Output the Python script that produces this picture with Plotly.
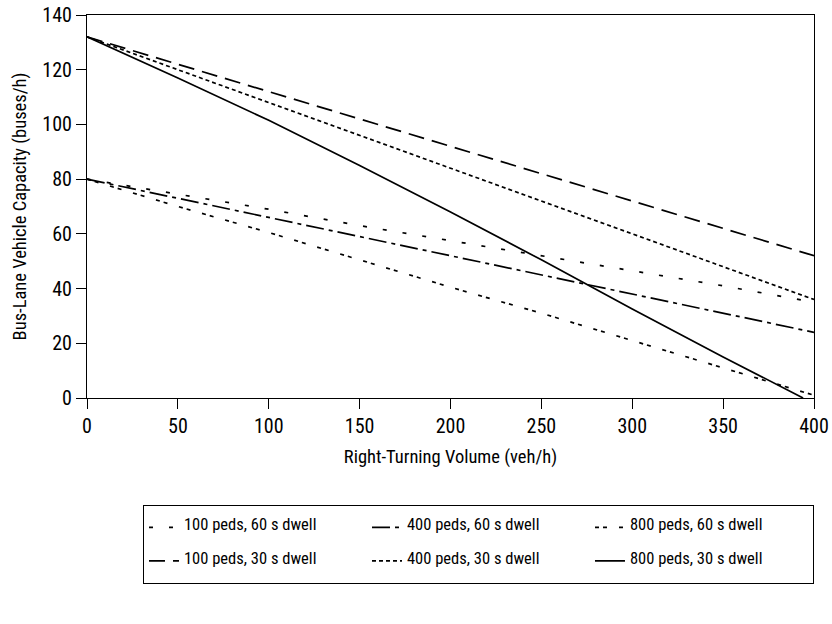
import plotly.graph_objects as go

volume = [0, 50, 100, 150, 200, 250, 300, 350, 400]
volume_solid = [0, 50, 100, 150, 200, 250, 300, 350, 394]

cap_100_60 = [80, 74.5, 69, 63, 57.5, 52, 46.5, 41, 35]
cap_400_60 = [80, 73, 66, 59, 52, 45, 38, 31, 24]
cap_800_60 = [80, 70, 60.5, 50.5, 40.5, 31, 21, 11, 1]
cap_100_30 = [132, 122, 112, 102, 92, 82, 72, 62, 52]
cap_400_30 = [132, 120, 108, 96, 84, 72, 60, 48, 36]
cap_800_30 = [132, 117, 101.5, 85, 68, 50.5, 32.5, 15, 0]

names = ["100 peds, 60 s dwell", "400 peds, 60 s dwell", "800 peds, 60 s dwell",
         "100 peds, 30 s dwell", "400 peds, 30 s dwell", "800 peds, 30 s dwell"]

series = [
    (volume, cap_100_60, "4px,16px"),
    (volume, cap_400_60, "18px,5px,4px,5px"),
    (volume, cap_800_60, "4px,4px,4px,12px"),
    (volume, cap_100_30, "16px,8px"),
    (volume, cap_400_30, "4px,3px"),
    (volume_solid, cap_800_30, "solid"),
]

FONT = "Liberation Sans Narrow, Arial Narrow, Roboto Condensed, sans-serif"

fig = go.Figure()
for name, (xs, ys, dash) in zip(names, series):
    label = " <br><span style='font-size:16.5px'>" + name + "</span><br> "
    fig.add_trace(go.Scatter(x=xs, y=ys, mode="lines", name=label,
                             line=dict(color="black", width=1.7, dash=dash)))

axis_common = dict(showline=True, linecolor="black", linewidth=1.2, mirror=True,
                   ticks="outside", tickcolor="black", ticklen=10, tickwidth=1,
                   showgrid=False, zeroline=False, automargin=False,
                   ticklabeloverflow="allow",
                   tickfont=dict(family=FONT, size=20, color="black"))

fig.update_xaxes(range=[0, 400], tickvals=[0, 50, 100, 150, 200, 250, 300, 350, 400],
                 title=dict(text="Right-Turning Volume (veh/h)",
                            font=dict(family=FONT, size=18.5, color="black"), standoff=12),
                 **axis_common)
fig.update_yaxes(range=[0, 140], tickvals=[0, 20, 40, 60, 80, 100, 120, 140],
                 title=dict(text="Bus-Lane Vehicle Capacity (buses/h)",
                            font=dict(family=FONT, size=18.5, color="black"), standoff=10),
                 **axis_common)

fig.update_layout(
    width=832, height=624,
    margin=dict(l=87, r=18, t=15, b=226, autoexpand=False),
    plot_bgcolor="white", paper_bgcolor="white",
    font=dict(family=FONT, color="black"),
    legend=dict(orientation="h", x=0.077, xanchor="left", y=-0.2785, yanchor="top",
                entrywidth=178, entrywidthmode="pixels",
                bordercolor="black", borderwidth=1, bgcolor="white",
                font=dict(family=FONT, size=7.8, color="black")),
)

fig.write_html("out.html", config={"displayModeBar": False},
               post_script="document.body.style.margin='0';")
